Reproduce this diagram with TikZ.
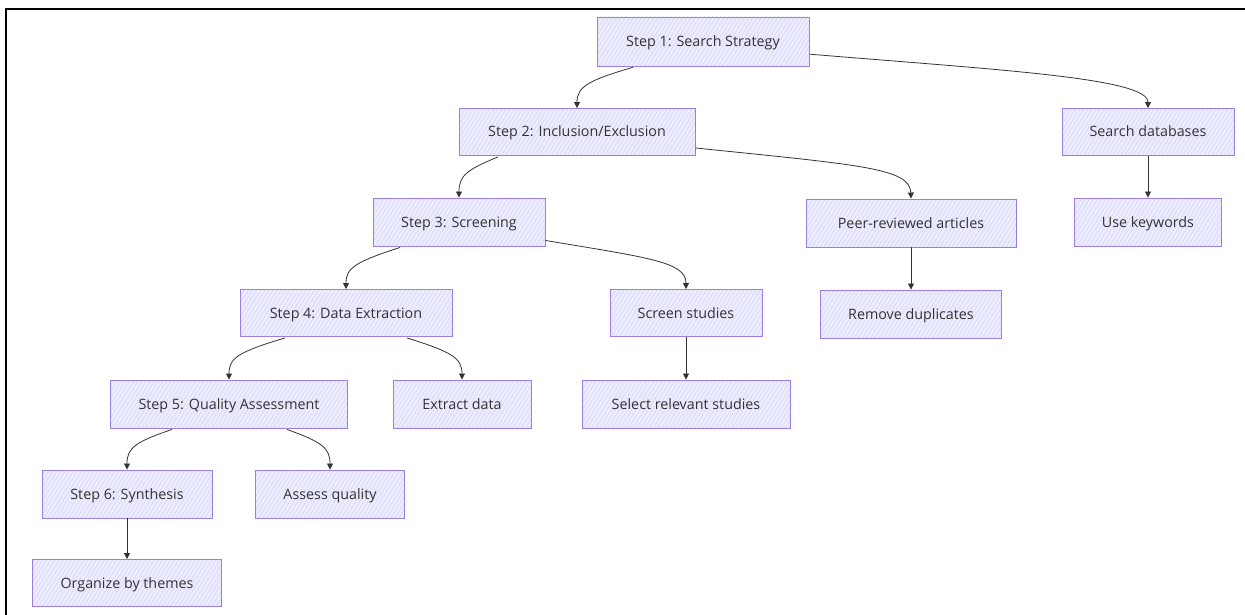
\documentclass[tikz,border=0pt]{standalone}
\usepackage{fontspec}
\setmainfont{Open Sans}
\usetikzlibrary{arrows.meta,patterns.meta,calc}
\definecolor{nfill}{HTML}{ECECFF}
\definecolor{nhatch}{HTML}{D4D0F4}
\definecolor{nborder}{HTML}{9B7FE0}
\definecolor{ntext}{HTML}{333333}
\definecolor{edge}{HTML}{333333}
\tikzset{
  box/.style={draw=nborder, line width=0.9pt, text=ntext, font=\fontsize{14.3}{16}\selectfont,
    inner sep=0pt, text height=10pt, text depth=0pt, preaction={fill=nfill},
    pattern={Lines[angle=58,distance=3.5pt,line width=0.45pt]}, pattern color=nhatch},
  link/.style={draw=edge, line width=0.8pt, -{Triangle[length=6pt,width=6pt]}},
}
\begin{document}
\begin{tikzpicture}[x=1pt,y=-1pt]
\useasboundingbox (0,0) rectangle (1245,615);
\draw[line width=2pt, black] (1245,9) -- (6,9) -- (6,615);

\node[box, minimum width=212pt, minimum height=49pt] (s1) at (703,41.5) {Step 1: Search Strategy};
\node[box, minimum width=236pt, minimum height=47pt] (s2) at (577,132) {Step 2: Inclusion/Exclusion};
\node[box, minimum width=172pt, minimum height=47pt] (db) at (1148,132) {Search databases};
\node[box, minimum width=172pt, minimum height=48pt] (s3) at (459,222) {Step 3: Screening};
\node[box, minimum width=210pt, minimum height=48pt] (peer) at (911,223) {Peer-reviewed articles};
\node[box, minimum width=147pt, minimum height=48pt] (kw) at (1148,222) {Use keywords};
\node[box, minimum width=212pt, minimum height=47pt] (s4) at (346,313) {Step 4: Data Extraction};
\node[box, minimum width=152pt, minimum height=47pt] (scr) at (686,313) {Screen studies};
\node[box, minimum width=181pt, minimum height=48pt] (dup) at (911,314) {Remove duplicates};
\node[box, minimum width=237pt, minimum height=48pt] (s5) at (229,404) {Step 5: Quality Assessment};
\node[box, minimum width=138pt, minimum height=48pt] (ext) at (462,404) {Extract data};
\node[box, minimum width=208pt, minimum height=48pt] (sel) at (686,404) {Select relevant studies};
\node[box, minimum width=170pt, minimum height=48pt] (s6) at (127,494) {Step 6: Synthesis};
\node[box, minimum width=149pt, minimum height=48pt] (aq) at (330,494) {Assess quality};
\node[box, minimum width=189pt, minimum height=47pt] (org) at (127,583) {Organize by themes};

\draw[link] ($(s1.south)+(-70,1)$) .. controls (590,80) and (577,86) .. (s2.north);
\draw[link] ($(s1.south east)+(1,-12)$) .. controls (1000,70) and (1148,78) .. (db.north);
\draw[link] ($(s2.south)+(-79,1)$) .. controls (466,170) and (459,176) .. (s3.north);
\draw[link] ($(s2.south east)+(0,-8)$) .. controls (860,165) and (910,168) .. (peer.north);
\draw[link] (db.south) -- (kw.north);
\draw[link] ($(s3.south)+(-59,1)$) .. controls (355,262) and (346,268) .. (s4.north);
\draw[link] ($(s3.south east)+(0,-6)$) .. controls (650,258) and (686,262) .. (scr.north);
\draw[link] (peer.south) -- (dup.north);
\draw[link] ($(s4.south)+(-61,1)$) .. controls (238,352) and (229,358) .. (s5.north);
\draw[link] ($(s4.south)+(61,1)$) .. controls (452,352) and (462,358) .. (ext.north);
\draw[link] (scr.south) -- (sel.north);
\draw[link] ($(s5.south)+(-57,1)$) .. controls (135,442) and (127,448) .. (s6.north);
\draw[link] ($(s5.south)+(58,1)$) .. controls (322,442) and (330,448) .. (aq.north);
\draw[link] (s6.south) -- (org.north);
\end{tikzpicture}
\end{document}
